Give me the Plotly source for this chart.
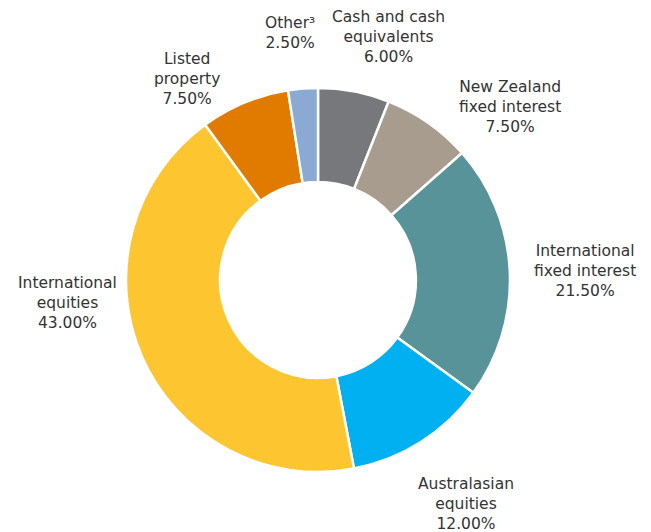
import plotly.graph_objects as go

labels = ["Cash and cash<br>equivalents", "New Zealand<br>fixed interest", "International<br>fixed interest",
          "Australasian<br>equities", "International<br>equities", "Listed<br>property", "Other³"]
values = [6.0, 7.5, 21.5, 12.0, 43.0, 7.5, 2.5]
colors = ["#77787B", "#A89C8F", "#58939A", "#00B0F0", "#FDC52F", "#E07B00", "#8AAAD3"]

W, H = 651, 532
cx, cy, R = 318, 280, 192

# label centre positions (pixels) - layout only
label_pos = [(388, 37), (510, 107), (585, 271), (466, 504), (67, 303), (187, 79), (290, 33)]

fig = go.Figure(go.Pie(
    labels=labels, values=values, sort=False, direction="clockwise", rotation=0,
    hole=0.51,
    marker=dict(colors=colors, line=dict(color="white", width=2.5)),
    textinfo="none", hoverinfo="label+percent",
    domain=dict(x=[(cx - R) / W, (cx + R) / W], y=[(H - cy - R) / H, (H - cy + R) / H]),
    showlegend=False,
))
for lab, val, (px, py) in zip(labels, values, label_pos):
    fig.add_annotation(text=f"{lab}<br>{val:.2f}%", x=px / W, y=1 - py / H, xref="paper", yref="paper",
                       xanchor="center", yanchor="middle", showarrow=False, align="center",
                       font=dict(family="DejaVu Sans", size=15.5, color="#333333"))
fig.update_layout(width=W, height=H, margin=dict(l=0, r=0, t=0, b=0),
                  paper_bgcolor="white", font=dict(family="DejaVu Sans"))
fig.write_html("out.html", config={"displayModeBar": False},
               post_script="document.body.style.margin='0';")
